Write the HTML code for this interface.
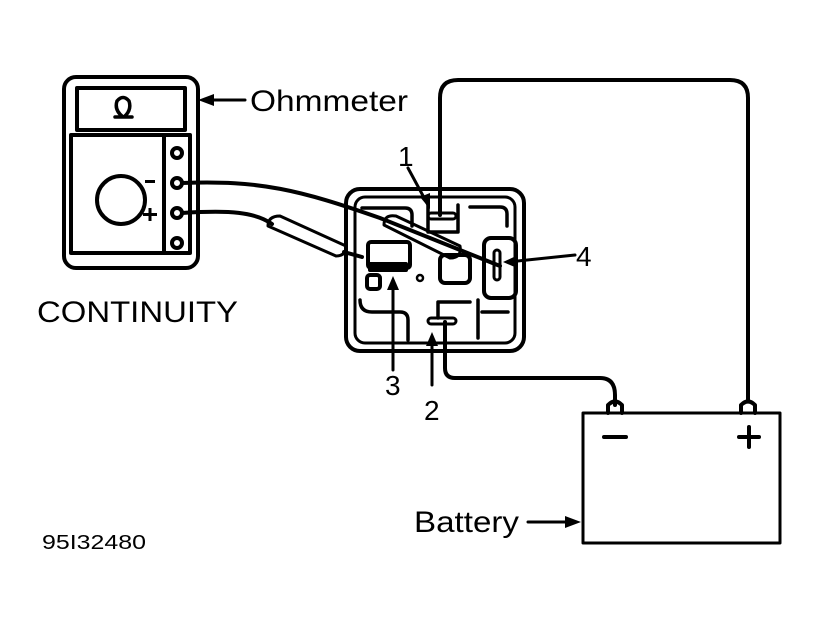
<!DOCTYPE html>
<html><head><style>body{margin:0;background:#fff}svg{display:block}text{font-family:"Liberation Sans",sans-serif;fill:#000}</style></head>
<body>
<svg width="820" height="623" viewBox="0 0 820 623" xmlns="http://www.w3.org/2000/svg">
<g fill="none" stroke="#000" stroke-width="4" stroke-linecap="round" stroke-linejoin="round">
<!-- meter -->
<rect x="64" y="77" width="134" height="191" rx="12"/>
<rect x="77" y="88" width="108" height="42"/>
<rect x="71" y="135" width="119" height="118"/>
<line x1="164" y1="135" x2="164" y2="253"/>
<circle cx="121" cy="200" r="24"/>
<circle cx="177" cy="153" r="5"/><circle cx="177" cy="183" r="5"/><circle cx="177" cy="213" r="5"/><circle cx="177" cy="243" r="5"/>
<path d="M115 117 L123 117 Q114 110 117 101 Q123 94 129 101 Q132 110 124 117 L132 117" stroke-width="3.5"/>
<line x1="210" y1="100" x2="245" y2="100" stroke-width="3"/>
<line x1="528" y1="522" x2="565" y2="522" stroke-width="3"/>
<!-- relay -->
<rect x="346" y="189" width="178" height="162" rx="14"/>
<rect x="355" y="197" width="160" height="146" rx="10" stroke-width="3"/>
<path d="M362 208 H405 Q412 208 412 215 V226 M428 205 V232 H458 V205 M470 207 H500 Q507 207 507 214 V226" stroke-width="3.5"/>
<path d="M360 300 Q360 312 372 312 H400 Q408 312 408 320 V340 M438 318 V302 H470 M478 300 V338 M482 312 H508" stroke-width="3.5"/>
<rect x="368" y="242" width="42" height="26" rx="3"/>
<rect x="367" y="275" width="13" height="14" rx="3"/>
<rect x="484" y="238" width="32" height="60" rx="7"/>
<rect x="440" y="255" width="30" height="28" rx="5"/>
<circle cx="420" cy="278" r="3" stroke-width="2.5"/>
<rect x="428" y="213" width="28" height="6" rx="3" stroke-width="3"/>
<rect x="428" y="318" width="28" height="6" rx="3" stroke-width="3"/>
<rect x="370" y="264" width="36" height="6" fill="#000"/>
<rect x="494" y="250" width="6" height="30" rx="3" stroke-width="3"/>
<!-- probe wires -->
<path d="M182 183 C260 180 300 190 380 218 L500 266"/>
<path d="M182 213 C230 210 255 212 272 224"/>
<path d="M268 226 L336 256 Q346 256 346 246 L280 216 Q268 216 268 226 Z" stroke-width="3"/>
<path d="M344 252 L362 257"/>
<path d="M384 225 L450 258 Q462 258 460 246 L396 216 Q384 214 384 225 Z" stroke-width="3"/>
<!-- battery wires -->
<path d="M440 215 V98 Q440 80 458 80 H730 Q748 80 748 98 V400"/>
<path d="M445 322 V368 Q445 378 455 378 H600 Q615 378 615 395 V405"/>
<!-- battery -->
<rect x="583" y="413" width="197" height="130" stroke-width="3"/>
<path d="M608 413 V405 Q615 398 622 405 V413"/>
<path d="M741 413 V405 Q748 398 755 405 V413"/>
<line x1="604" y1="437" x2="626" y2="437" stroke-width="4"/>
<line x1="739" y1="437" x2="759" y2="437" stroke-width="4"/><line x1="749" y1="427" x2="749" y2="447" stroke-width="4"/>
<g stroke-width="3">
<line x1="408" y1="168" x2="428" y2="205"/>
<line x1="575" y1="255" x2="508" y2="262"/>
<line x1="393" y1="370" x2="393" y2="282"/>
<line x1="432" y1="385" x2="432" y2="338"/>
</g>
</g>
<g fill="#000">
<polygon points="198,100 214,94 214,106"/>
<polygon points="581,522 565,516 565,528"/>
<polygon points="430,209 420,197 430,193"/>
<polygon points="503,262 516,256 517,268"/>
<polygon points="393,276 387,290 399,290"/>
<polygon points="432,332 426,346 438,346"/>
<rect x="145" y="180" width="10" height="3"/>
<rect x="143" y="213" width="14" height="3"/><rect x="148.5" y="208" width="3" height="13"/>
</g>
<text x="250" y="111" font-size="30" textLength="158" lengthAdjust="spacingAndGlyphs">Ohmmeter</text>
<text x="37" y="322" font-size="30" textLength="201" lengthAdjust="spacingAndGlyphs">CONTINUITY</text>
<text x="398" y="166" font-size="28">1</text>
<text x="576" y="266" font-size="28">4</text>
<text x="385" y="395" font-size="28">3</text>
<text x="424" y="420" font-size="28">2</text>
<text x="414" y="532" font-size="30" textLength="105" lengthAdjust="spacingAndGlyphs">Battery</text>
<text x="42" y="549" font-size="20" textLength="104" lengthAdjust="spacingAndGlyphs">95I32480</text>
</svg>
</body></html>
